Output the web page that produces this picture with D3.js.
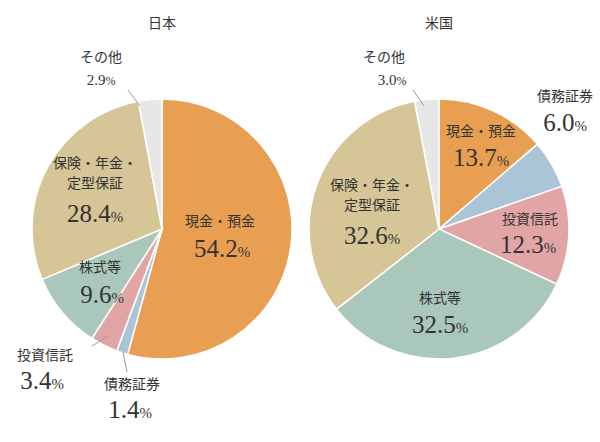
<!DOCTYPE html>
<html><head><meta charset="utf-8">
<script src="https://cdn.jsdelivr.net/npm/d3@7"></script>
<style>body{margin:0;background:#fff}</style>
</head><body>
<svg id="c" width="600" height="442"></svg>
<script>
var categories = ["現金・預金", "債務証券", "投資信託", "株式等", "保険・年金・定型保証", "その他"];
var colors = ["#E99F52", "#A9C5D6", "#E2A5A6", "#A9C7BA", "#D5C597", "#E7E7E7"];
var japan = [54.2, 1.4, 3.4, 9.6, 28.4, 2.9];
var usa = [13.7, 6.0, 12.3, 32.5, 32.6, 3.0];
var titles = ["日本", "米国"];

// label anchors: [lines x,y of first line], value position
var jpLabels = [
  {t:["現金・預金"], x:220, y:226, vx:222, vy:257, big:true},
  {t:["債務証券"], x:132, y:389, vx:130, vy:418, lead:[[123,352],[127,372]]},
  {t:["投資信託"], x:45, y:360, vx:42, vy:389, lead:[[108,336],[92,346]]},
  {t:["株式等"], x:100, y:272, vx:102, vy:303},
  {t:["保険・年金・","定型保証"], x:95, y:168, vx:95, vy:222},
  {t:["その他"], x:101, y:62, vx:101, vy:85, small:true, lead:[[140,106],[128,90]]}
];
var usLabels = [
  {t:["現金・預金"], x:481, y:136, vx:481, vy:166},
  {t:["債務証券"], x:565, y:101, vx:565, vy:131},
  {t:["投資信託"], x:530, y:224, vx:528, vy:253},
  {t:["株式等"], x:440, y:303, vx:440, vy:333},
  {t:["保険・年金・","定型保証"], x:372, y:190, vx:372, vy:244},
  {t:["その他"], x:384, y:62, vx:392, vy:85, small:true, lead:[[424,106],[413,90]]}
];

var svg = d3.select("#c");
var pie = d3.pie().sort(null).value(function(d){return d;});
var arc = d3.arc().innerRadius(0).outerRadius(130);

function drawPie(cx, values, labels, title) {
  var g = svg.append("g").attr("transform", "translate(" + cx + ",229)");
  g.selectAll("path").data(pie(values)).enter().append("path")
    .attr("d", arc)
    .attr("fill", function(d, i){return colors[i];})
    .attr("stroke", "#fff").attr("stroke-width", 1.5);
  svg.append("text").attr("x", cx).attr("y", 28).attr("text-anchor", "middle")
    .attr("font-family", "Noto Sans CJK JP").attr("font-size", 14).attr("fill", "#333").text(title);
  labels.forEach(function(l, i){
    if (l.lead) svg.append("line").attr("x1", l.lead[0][0]).attr("y1", l.lead[0][1])
      .attr("x2", l.lead[1][0]).attr("y2", l.lead[1][1]).attr("stroke", "#999").attr("stroke-width", 1);
    l.t.forEach(function(s, j){
      svg.append("text").attr("x", l.x).attr("y", l.y + j * 20).attr("text-anchor", "middle")
        .attr("font-family", "Noto Sans CJK JP").attr("font-size", 14).attr("fill", "#333").text(s);
    });
    var v = svg.append("text").attr("x", l.vx).attr("y", l.vy).attr("text-anchor", "middle")
      .attr("font-family", "Liberation Serif").attr("fill", "#333")
      .attr("font-size", l.small ? 15 : 25);
    v.append("tspan").text(values[i].toFixed(1));
    v.append("tspan").attr("font-size", l.small ? 12 : 15).text("%");
  });
}
drawPie(162, japan, jpLabels, titles[0]);
drawPie(439, usa, usLabels, titles[1]);
</script>
</body></html>
